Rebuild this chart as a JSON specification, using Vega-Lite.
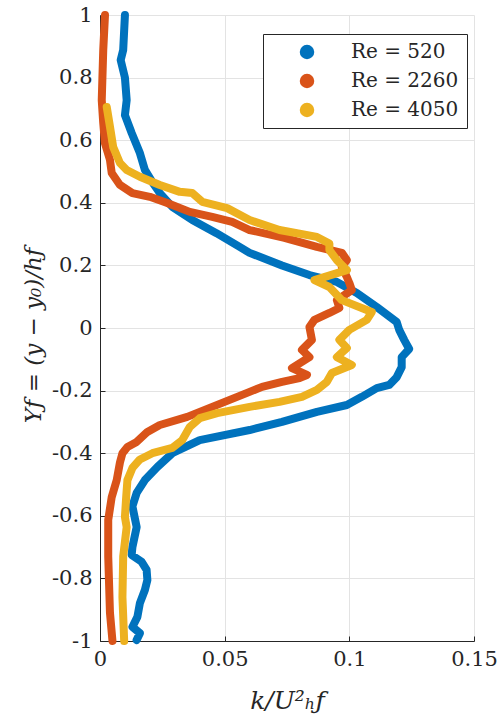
{
  "$schema": "https://vega.github.io/schema/vega-lite/v6.json",
  "width": 374,
  "height": 626,
  "autosize": {"type": "none"},
  "padding": {"left": 100, "top": 15, "right": 26, "bottom": 82},
  "background": "white",
  "config": {
    "view": {"stroke": null},
    "font": "DejaVu Serif, serif",
    "axis": {
      "labelFont": "DejaVu Serif, serif",
      "labelFontSize": 21,
      "labelColor": "#262626",
      "titleFont": "DejaVu Serif, serif",
      "titleColor": "#262626",
      "titleFontWeight": "normal",
      "domainColor": "#262626",
      "domainWidth": 1,
      "tickColor": "#262626",
      "tickSize": -5,
      "gridColor": "#e3e3e3",
      "gridWidth": 1
    },
    "legend": {
      "labelFont": "DejaVu Serif, serif",
      "labelFontSize": 20,
      "labelColor": "#262626"
    }
  },
  "data": {
    "values": [
      {"Re": "Re = 520", "k": 0.0100, "Y": 1.000},
      {"Re": "Re = 520", "k": 0.0093, "Y": 0.888},
      {"Re": "Re = 520", "k": 0.0083, "Y": 0.856},
      {"Re": "Re = 520", "k": 0.0100, "Y": 0.800},
      {"Re": "Re = 520", "k": 0.0107, "Y": 0.728},
      {"Re": "Re = 520", "k": 0.0100, "Y": 0.680},
      {"Re": "Re = 520", "k": 0.0127, "Y": 0.623},
      {"Re": "Re = 520", "k": 0.0160, "Y": 0.559},
      {"Re": "Re = 520", "k": 0.0180, "Y": 0.505},
      {"Re": "Re = 520", "k": 0.0210, "Y": 0.466},
      {"Re": "Re = 520", "k": 0.0240, "Y": 0.431},
      {"Re": "Re = 520", "k": 0.0290, "Y": 0.387},
      {"Re": "Re = 520", "k": 0.0370, "Y": 0.345},
      {"Re": "Re = 520", "k": 0.0467, "Y": 0.303},
      {"Re": "Re = 520", "k": 0.0560, "Y": 0.259},
      {"Re": "Re = 520", "k": 0.0600, "Y": 0.240},
      {"Re": "Re = 520", "k": 0.0730, "Y": 0.200},
      {"Re": "Re = 520", "k": 0.0840, "Y": 0.169},
      {"Re": "Re = 520", "k": 0.0950, "Y": 0.147},
      {"Re": "Re = 520", "k": 0.1030, "Y": 0.112},
      {"Re": "Re = 520", "k": 0.1110, "Y": 0.067},
      {"Re": "Re = 520", "k": 0.1190, "Y": 0.019},
      {"Re": "Re = 520", "k": 0.1200, "Y": -0.006},
      {"Re": "Re = 520", "k": 0.1220, "Y": -0.038},
      {"Re": "Re = 520", "k": 0.1240, "Y": -0.067},
      {"Re": "Re = 520", "k": 0.1210, "Y": -0.093},
      {"Re": "Re = 520", "k": 0.1210, "Y": -0.125},
      {"Re": "Re = 520", "k": 0.1190, "Y": -0.157},
      {"Re": "Re = 520", "k": 0.1160, "Y": -0.182},
      {"Re": "Re = 520", "k": 0.1110, "Y": -0.192},
      {"Re": "Re = 520", "k": 0.1050, "Y": -0.220},
      {"Re": "Re = 520", "k": 0.0990, "Y": -0.246},
      {"Re": "Re = 520", "k": 0.0870, "Y": -0.268},
      {"Re": "Re = 520", "k": 0.0730, "Y": -0.300},
      {"Re": "Re = 520", "k": 0.0600, "Y": -0.326},
      {"Re": "Re = 520", "k": 0.0400, "Y": -0.358},
      {"Re": "Re = 520", "k": 0.0290, "Y": -0.400},
      {"Re": "Re = 520", "k": 0.0230, "Y": -0.444},
      {"Re": "Re = 520", "k": 0.0180, "Y": -0.486},
      {"Re": "Re = 520", "k": 0.0147, "Y": -0.527},
      {"Re": "Re = 520", "k": 0.0130, "Y": -0.570},
      {"Re": "Re = 520", "k": 0.0147, "Y": -0.636},
      {"Re": "Re = 520", "k": 0.0130, "Y": -0.700},
      {"Re": "Re = 520", "k": 0.0127, "Y": -0.725},
      {"Re": "Re = 520", "k": 0.0167, "Y": -0.747},
      {"Re": "Re = 520", "k": 0.0187, "Y": -0.773},
      {"Re": "Re = 520", "k": 0.0190, "Y": -0.805},
      {"Re": "Re = 520", "k": 0.0180, "Y": -0.837},
      {"Re": "Re = 520", "k": 0.0160, "Y": -0.879},
      {"Re": "Re = 520", "k": 0.0150, "Y": -0.923},
      {"Re": "Re = 520", "k": 0.0130, "Y": -0.955},
      {"Re": "Re = 520", "k": 0.0160, "Y": -0.975},
      {"Re": "Re = 520", "k": 0.0147, "Y": -0.997},

      {"Re": "Re = 2260", "k": 0.0020, "Y": 1.000},
      {"Re": "Re = 2260", "k": 0.0013, "Y": 0.888},
      {"Re": "Re = 2260", "k": 0.0007, "Y": 0.728},
      {"Re": "Re = 2260", "k": 0.0013, "Y": 0.655},
      {"Re": "Re = 2260", "k": 0.0020, "Y": 0.590},
      {"Re": "Re = 2260", "k": 0.0040, "Y": 0.537},
      {"Re": "Re = 2260", "k": 0.0047, "Y": 0.495},
      {"Re": "Re = 2260", "k": 0.0080, "Y": 0.457},
      {"Re": "Re = 2260", "k": 0.0130, "Y": 0.431},
      {"Re": "Re = 2260", "k": 0.0200, "Y": 0.419},
      {"Re": "Re = 2260", "k": 0.0267, "Y": 0.400},
      {"Re": "Re = 2260", "k": 0.0360, "Y": 0.371},
      {"Re": "Re = 2260", "k": 0.0450, "Y": 0.355},
      {"Re": "Re = 2260", "k": 0.0530, "Y": 0.339},
      {"Re": "Re = 2260", "k": 0.0600, "Y": 0.313},
      {"Re": "Re = 2260", "k": 0.0740, "Y": 0.288},
      {"Re": "Re = 2260", "k": 0.0870, "Y": 0.259},
      {"Re": "Re = 2260", "k": 0.0970, "Y": 0.240},
      {"Re": "Re = 2260", "k": 0.0990, "Y": 0.217},
      {"Re": "Re = 2260", "k": 0.0970, "Y": 0.195},
      {"Re": "Re = 2260", "k": 0.0990, "Y": 0.163},
      {"Re": "Re = 2260", "k": 0.1000, "Y": 0.144},
      {"Re": "Re = 2260", "k": 0.1010, "Y": 0.121},
      {"Re": "Re = 2260", "k": 0.0950, "Y": 0.089},
      {"Re": "Re = 2260", "k": 0.0960, "Y": 0.064},
      {"Re": "Re = 2260", "k": 0.0920, "Y": 0.048},
      {"Re": "Re = 2260", "k": 0.0860, "Y": 0.026},
      {"Re": "Re = 2260", "k": 0.0840, "Y": 0.003},
      {"Re": "Re = 2260", "k": 0.0850, "Y": -0.038},
      {"Re": "Re = 2260", "k": 0.0810, "Y": -0.070},
      {"Re": "Re = 2260", "k": 0.0840, "Y": -0.093},
      {"Re": "Re = 2260", "k": 0.0770, "Y": -0.128},
      {"Re": "Re = 2260", "k": 0.0830, "Y": -0.150},
      {"Re": "Re = 2260", "k": 0.0800, "Y": -0.160},
      {"Re": "Re = 2260", "k": 0.0730, "Y": -0.172},
      {"Re": "Re = 2260", "k": 0.0650, "Y": -0.188},
      {"Re": "Re = 2260", "k": 0.0600, "Y": -0.204},
      {"Re": "Re = 2260", "k": 0.0450, "Y": -0.252},
      {"Re": "Re = 2260", "k": 0.0350, "Y": -0.284},
      {"Re": "Re = 2260", "k": 0.0240, "Y": -0.310},
      {"Re": "Re = 2260", "k": 0.0190, "Y": -0.332},
      {"Re": "Re = 2260", "k": 0.0147, "Y": -0.364},
      {"Re": "Re = 2260", "k": 0.0110, "Y": -0.380},
      {"Re": "Re = 2260", "k": 0.0090, "Y": -0.400},
      {"Re": "Re = 2260", "k": 0.0080, "Y": -0.430},
      {"Re": "Re = 2260", "k": 0.0067, "Y": -0.486},
      {"Re": "Re = 2260", "k": 0.0047, "Y": -0.540},
      {"Re": "Re = 2260", "k": 0.0033, "Y": -0.613},
      {"Re": "Re = 2260", "k": 0.0033, "Y": -0.730},
      {"Re": "Re = 2260", "k": 0.0040, "Y": -0.910},
      {"Re": "Re = 2260", "k": 0.0050, "Y": -1.000},

      {"Re": "Re = 4050", "k": 0.0027, "Y": 0.706},
      {"Re": "Re = 4050", "k": 0.0040, "Y": 0.643},
      {"Re": "Re = 4050", "k": 0.0053, "Y": 0.578},
      {"Re": "Re = 4050", "k": 0.0080, "Y": 0.527},
      {"Re": "Re = 4050", "k": 0.0107, "Y": 0.505},
      {"Re": "Re = 4050", "k": 0.0160, "Y": 0.483},
      {"Re": "Re = 4050", "k": 0.0240, "Y": 0.457},
      {"Re": "Re = 4050", "k": 0.0320, "Y": 0.435},
      {"Re": "Re = 4050", "k": 0.0370, "Y": 0.431},
      {"Re": "Re = 4050", "k": 0.0410, "Y": 0.403},
      {"Re": "Re = 4050", "k": 0.0510, "Y": 0.383},
      {"Re": "Re = 4050", "k": 0.0600, "Y": 0.345},
      {"Re": "Re = 4050", "k": 0.0720, "Y": 0.313},
      {"Re": "Re = 4050", "k": 0.0870, "Y": 0.291},
      {"Re": "Re = 4050", "k": 0.0920, "Y": 0.270},
      {"Re": "Re = 4050", "k": 0.0920, "Y": 0.249},
      {"Re": "Re = 4050", "k": 0.0950, "Y": 0.217},
      {"Re": "Re = 4050", "k": 0.0990, "Y": 0.185},
      {"Re": "Re = 4050", "k": 0.0860, "Y": 0.153},
      {"Re": "Re = 4050", "k": 0.0920, "Y": 0.131},
      {"Re": "Re = 4050", "k": 0.0970, "Y": 0.089},
      {"Re": "Re = 4050", "k": 0.1090, "Y": 0.051},
      {"Re": "Re = 4050", "k": 0.1070, "Y": 0.026},
      {"Re": "Re = 4050", "k": 0.1000, "Y": -0.006},
      {"Re": "Re = 4050", "k": 0.0960, "Y": -0.038},
      {"Re": "Re = 4050", "k": 0.0990, "Y": -0.064},
      {"Re": "Re = 4050", "k": 0.0950, "Y": -0.093},
      {"Re": "Re = 4050", "k": 0.1010, "Y": -0.118},
      {"Re": "Re = 4050", "k": 0.0930, "Y": -0.144},
      {"Re": "Re = 4050", "k": 0.0910, "Y": -0.172},
      {"Re": "Re = 4050", "k": 0.0870, "Y": -0.198},
      {"Re": "Re = 4050", "k": 0.0810, "Y": -0.220},
      {"Re": "Re = 4050", "k": 0.0720, "Y": -0.236},
      {"Re": "Re = 4050", "k": 0.0600, "Y": -0.252},
      {"Re": "Re = 4050", "k": 0.0470, "Y": -0.272},
      {"Re": "Re = 4050", "k": 0.0400, "Y": -0.288},
      {"Re": "Re = 4050", "k": 0.0360, "Y": -0.316},
      {"Re": "Re = 4050", "k": 0.0330, "Y": -0.358},
      {"Re": "Re = 4050", "k": 0.0290, "Y": -0.383},
      {"Re": "Re = 4050", "k": 0.0210, "Y": -0.400},
      {"Re": "Re = 4050", "k": 0.0160, "Y": -0.420},
      {"Re": "Re = 4050", "k": 0.0130, "Y": -0.447},
      {"Re": "Re = 4050", "k": 0.0110, "Y": -0.486},
      {"Re": "Re = 4050", "k": 0.0105, "Y": -0.540},
      {"Re": "Re = 4050", "k": 0.0100, "Y": -0.604},
      {"Re": "Re = 4050", "k": 0.0107, "Y": -0.636},
      {"Re": "Re = 4050", "k": 0.0093, "Y": -0.730},
      {"Re": "Re = 4050", "k": 0.0090, "Y": -0.860},
      {"Re": "Re = 4050", "k": 0.0097, "Y": -1.000}
    ]
  },
  "mark": {"type": "line", "strokeWidth": 8, "strokeCap": "round", "strokeJoin": "round"},
  "encoding": {
    "x": {
      "field": "k",
      "type": "quantitative",
      "scale": {"domain": [0, 0.15], "nice": false, "zero": false},
      "axis": {
        "values": [0, 0.05, 0.1, 0.15],
        "labelExpr": "toString(datum.value)",
        "labelPadding": 12,
        "labelFlush": false,
        "title": "k/U²ₕƒ",
        "titleFontSize": 25,
        "titleFontStyle": "italic",
        "titleX": 187,
        "titleY": 67,
        "titleBaseline": "alphabetic"
      }
    },
    "y": {
      "field": "Y",
      "type": "quantitative",
      "scale": {"domain": [-1, 1], "nice": false, "zero": false},
      "axis": {
        "values": [-1, -0.8, -0.6, -0.4, -0.2, 0, 0.2, 0.4, 0.6, 0.8, 1],
        "labelExpr": "toString(datum.value)",
        "labelPadding": 13,
        "labelFlush": false,
        "title": "Yƒ = (y − y₀)/hƒ",
        "titleFontSize": 23,
        "titleFontStyle": "italic",
        "titleX": -60,
        "titleY": 320,
        "titleAngle": 270,
        "titleBaseline": "alphabetic"
      }
    },
    "color": {
      "field": "Re",
      "type": "nominal",
      "scale": {
        "domain": ["Re = 520", "Re = 2260", "Re = 4050"],
        "range": ["#0072BD", "#D95319", "#EDB120"]
      },
      "legend": {
        "title": null,
        "orient": "none",
        "legendX": 163,
        "legendY": 19,
        "fillColor": "white",
        "strokeColor": "#262626",
        "padding": 8,
        "symbolType": "circle",
        "symbolStrokeWidth": 0,
        "symbolSize": 210,
        "symbolOffset": 26,
        "labelOffset": 34,
        "rowPadding": 9,
        "encode": {
          "symbols": {
            "update": {
              "fill": {"scale": "color", "field": "value"},
              "fillOpacity": {"value": 1}
            }
          }
        }
      }
    },
    "order": {"field": "Y", "type": "quantitative", "sort": "descending"}
  }
}
